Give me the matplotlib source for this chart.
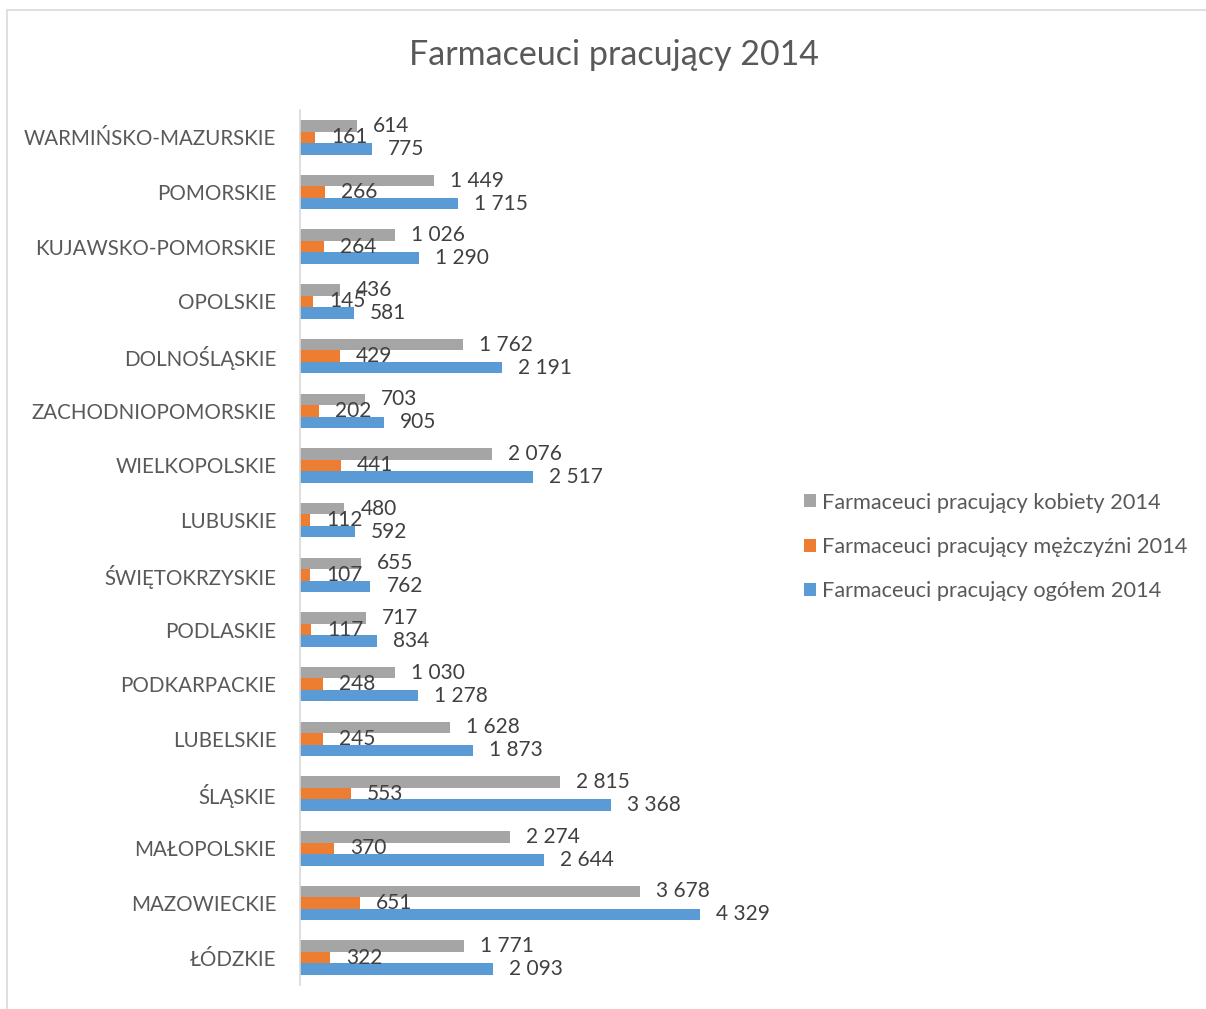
import matplotlib
matplotlib.use("Agg")
import matplotlib.pyplot as plt
from matplotlib.patches import Rectangle, Patch

regions = ["WARMIŃSKO-MAZURSKIE", "POMORSKIE", "KUJAWSKO-POMORSKIE", "OPOLSKIE",
           "DOLNOŚLĄSKIE", "ZACHODNIOPOMORSKIE", "WIELKOPOLSKIE", "LUBUSKIE",
           "ŚWIĘTOKRZYSKIE", "PODLASKIE", "PODKARPACKIE", "LUBELSKIE",
           "ŚLĄSKIE", "MAŁOPOLSKIE", "MAZOWIECKIE", "ŁÓDZKIE"]
kobiety = [614, 1449, 1026, 436, 1762, 703, 2076, 480, 655, 717, 1030, 1628, 2815, 2274, 3678, 1771]
mezczyzni = [161, 266, 264, 145, 429, 202, 441, 112, 107, 117, 248, 245, 553, 370, 651, 322]
ogolem = [775, 1715, 1290, 581, 2191, 905, 2517, 592, 762, 834, 1278, 1873, 3368, 2644, 4329, 2093]
series_names = ["Farmaceuci pracujący kobiety 2014",
                "Farmaceuci pracujący mężczyźni 2014",
                "Farmaceuci pracujący ogółem 2014"]
title = "Farmaceuci pracujący 2014"

colors = ["#A5A5A5", "#ED7D31", "#5B9BD5"]
text_color = "#595959"
label_color = "#404040"
plt.rcParams['font.family'] = ['Lato', 'DejaVu Sans']

W, H = 1206, 1009
fig = plt.figure(figsize=(W / 100, H / 100), dpi=100)
fig.patches.append(Rectangle((7 / W, -0.1), 1.2, 1 - 10 / H + 0.1, transform=fig.transFigure,
                             fill=False, edgecolor="#D9D9D9", linewidth=1.2))

ax = fig.add_axes([300 / W, 1 - 985 / H, 480 / W, 875 / H])
n = len(regions)
bh = 0.21
ys = list(range(n))
all_series = [kobiety, mezczyzni, ogolem]
offsets = [-bh, 0, bh]
for vals, off, c, name in zip(all_series, offsets, colors, series_names):
    pos = [y + off for y in ys]
    ax.barh(pos, vals, height=bh, color=c, label=name)
    for p, v in zip(pos, vals):
        lab = f"{v:,}".replace(",", " ")
        ax.annotate(lab, (v, p), xytext=(11.5, 0), textcoords="offset points",
                    ha="left", va="center", fontsize=15, color=label_color)

ax.set_ylim(n - 0.5, -0.5)
ax.set_xlim(0, 5195)
ax.set_yticks(ys)
ax.set_yticklabels(regions, fontsize=14.8, color=text_color)
ax.tick_params(axis="y", length=0, pad=17)
ax.set_xticks([])
for s in ["top", "right", "bottom"]:
    ax.spines[s].set_visible(False)
ax.spines["left"].set_color("#D9D9D9")
ax.spines["left"].set_linewidth(1.2)

fig.text(614 / W, 1 - 55 / H, title, ha="center", va="center", fontsize=24.5, color=text_color)

handles = [Patch(facecolor=c, edgecolor="none") for c in colors]
leg = fig.legend(handles, series_names, loc="center left", bbox_to_anchor=(784 / W, 1 - 547 / H),
                 frameon=False, fontsize=15.7, handlelength=0.55, handleheight=0.55,
                 handletextpad=0.3, labelspacing=1.12, labelcolor=text_color)

fig.savefig("out.png", dpi=100)
